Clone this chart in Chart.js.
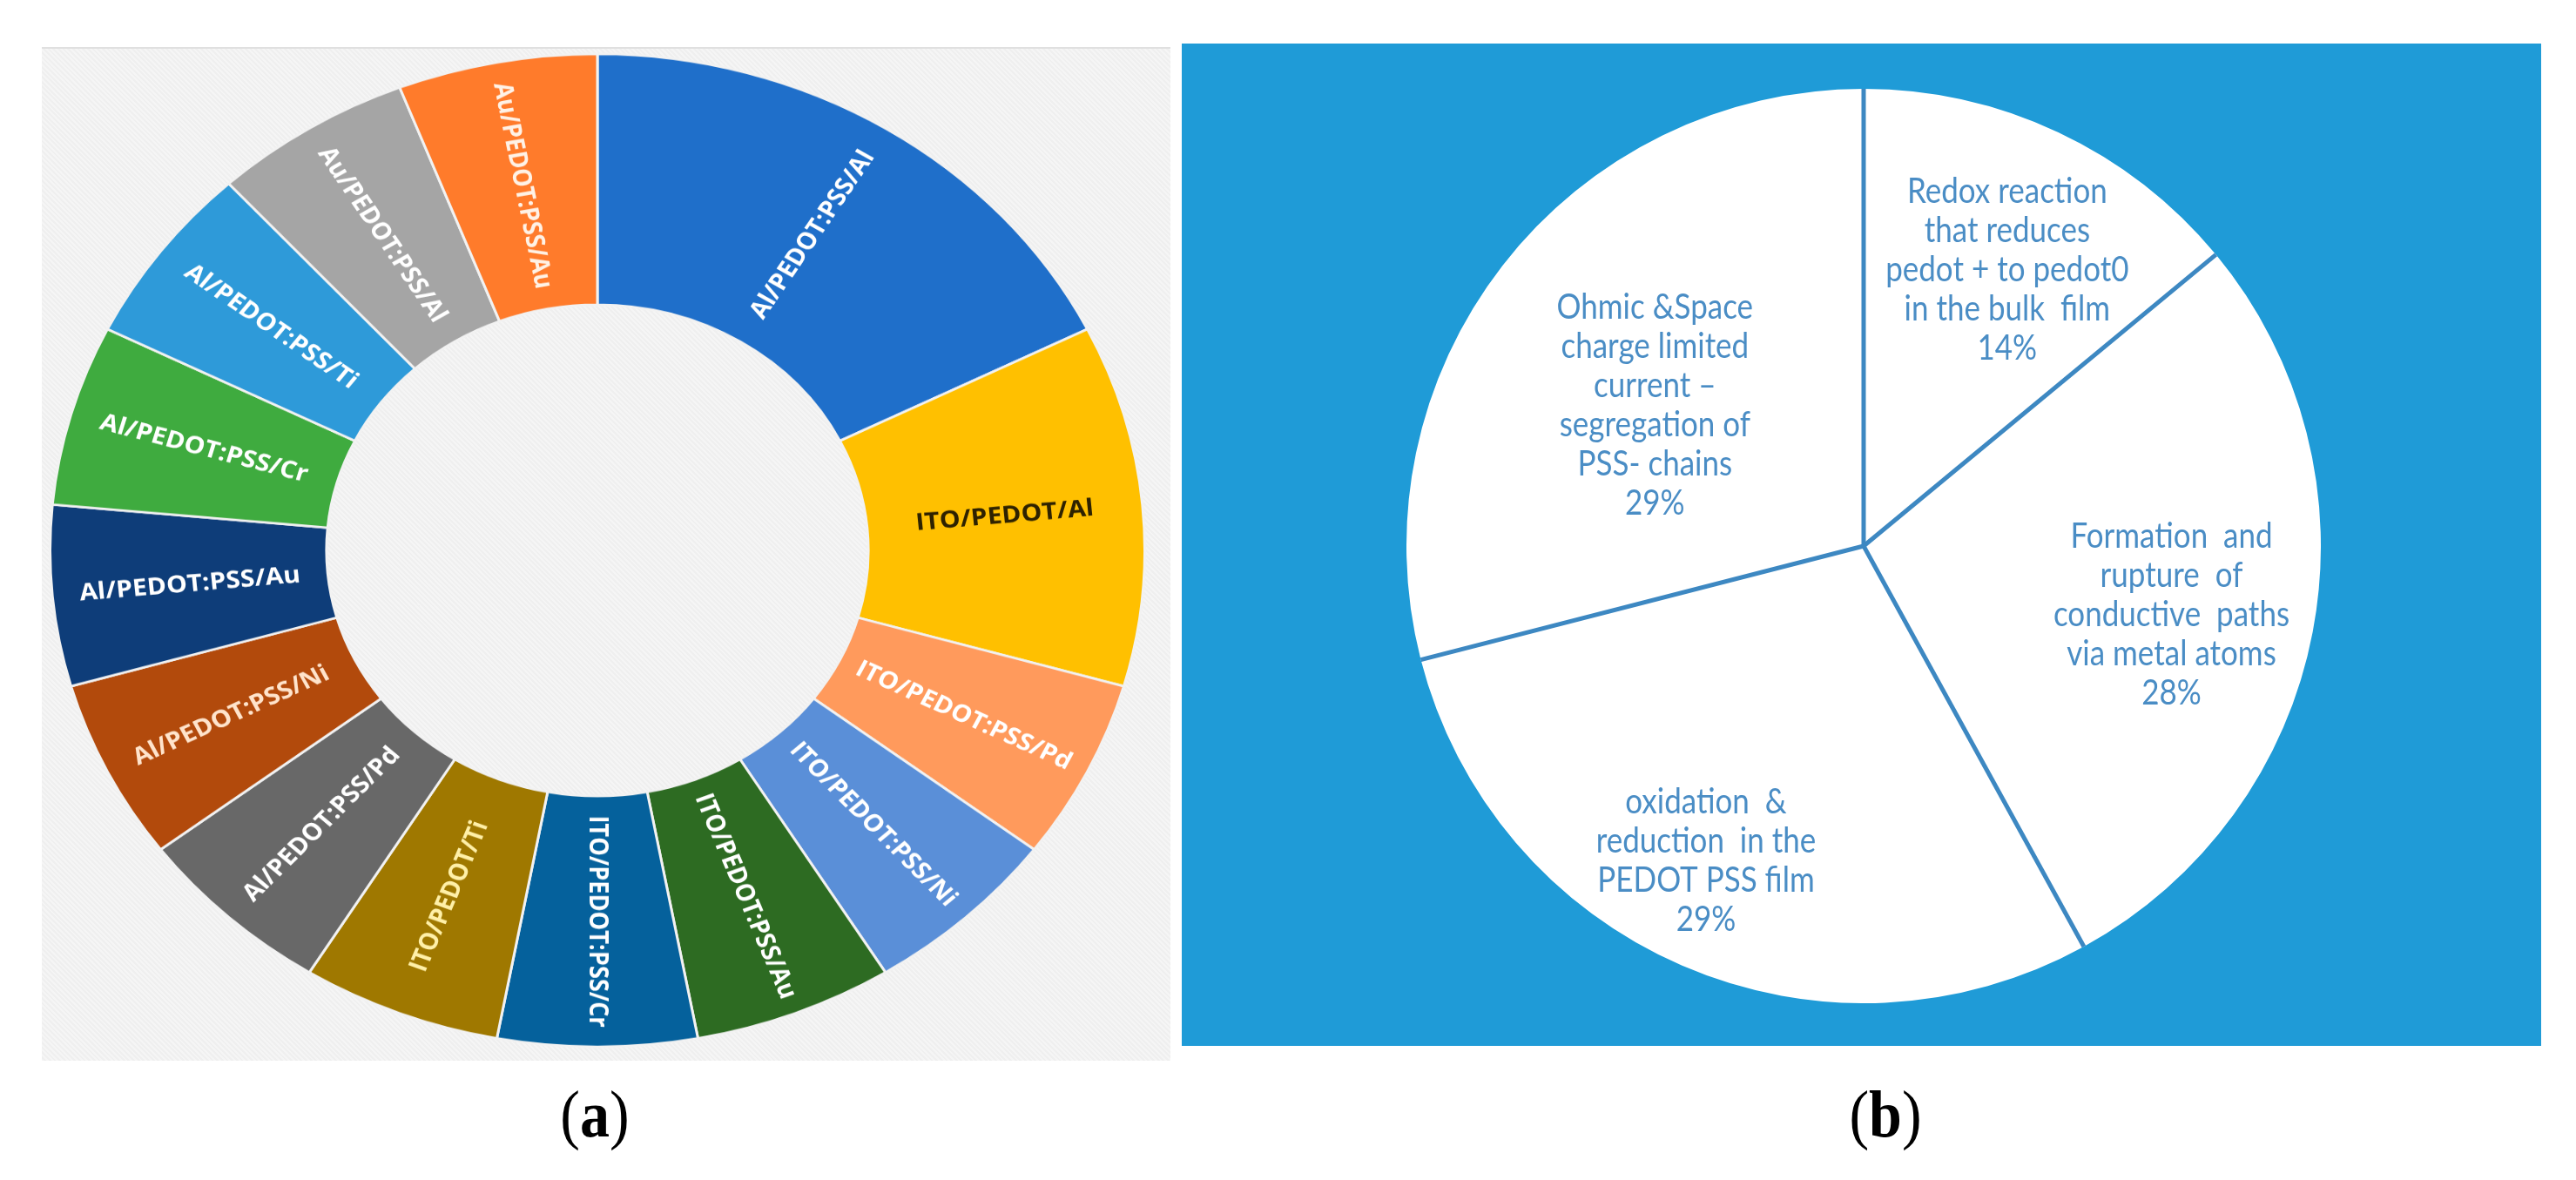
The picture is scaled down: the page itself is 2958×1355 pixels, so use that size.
<!DOCTYPE html>
<html>
<head>
<meta charset="utf-8">
<script src="https://cdn.jsdelivr.net/npm/chart.js@4.4.1/dist/chart.umd.min.js"></script>
<style>
  html, body { margin: 0; padding: 0; background: #ffffff; }
  body { width: 2958px; height: 1355px; position: relative; overflow: hidden; }
  #panelA { position: absolute; left: 48px; top: 54px; width: 1296px; height: 1162px;
            background: repeating-linear-gradient(45deg, #f5f5f5 0px, #f5f5f5 2px, #efefef 2px, #efefef 4px);
            border-top: 2px solid #e0e0e0; }
  #wrapA { position: absolute; left: 56px; top: 2px; width: 1260px; height: 1260px;
           transform: scaleY(0.907); transform-origin: 50% 50%; }
  #panelB { position: absolute; left: 1357px; top: 50px; width: 1561px; height: 1151px; background: #1f9bd7; }
  #wrapB { position: absolute; left: 1615px; top: 102px; width: 1050px; height: 1050px; }
  .caption { position: absolute; top: 1240px; width: 200px; text-align: center;
             font-family: "Liberation Serif", "DejaVu Serif", serif; font-size: 68px; color: #000;
             transform: scaleY(1.12); transform-origin: 50% 50%; }
  .caption b { font-weight: bold; }
</style>
</head>
<body>
<div id="panelA"></div>
<div id="wrapA"><canvas id="donaChart"></canvas></div>
<div id="panelB"></div>
<div id="wrapB"><canvas id="tortaChart"></canvas></div>
<div class="caption" style="left:583px;">(<b>a</b>)</div>
<div class="caption" style="left:2065px;">(<b>b</b>)</div>

<script>
// Datos del grafico (a): estructuras de dispositivos
const etiquetasA = [
  'Al/PEDOT:PSS/Al', 'ITO/PEDOT/Al', 'ITO/PEDOT:PSS/Pd', 'ITO/PEDOT:PSS/Ni',
  'ITO/PEDOT:PSS/Au', 'ITO/PEDOT:PSS/Cr', 'ITO/PEDOT/Ti', 'Al/PEDOT:PSS/Pd',
  'Al/PEDOT:PSS/Ni', 'Al/PEDOT:PSS/Au', 'Al/PEDOT:PSS/Cr', 'Al/PEDOT:PSS/Ti',
  'Au/PEDOT:PSS/Al', 'Au/PEDOT:PSS/Au'
];
const valoresA = [3, 2, 1, 1, 1, 1, 1, 1, 1, 1, 1, 1, 1, 1];

// Datos del grafico (b): mecanismos
const etiquetasB = [
  ['Redox reaction', 'that reduces', 'pedot + to pedot0', 'in the bulk  film'],
  ['Formation  and', 'rupture  of', 'conductive  paths', 'via metal atoms'],
  ['oxidation  &', 'reduction  in the', 'PEDOT PSS film'],
  ['Ohmic &Space', 'charge limited', 'current \u2013', 'segregation of', 'PSS- chains']
];
const valoresB = [14, 28, 29, 29];

// Estilos
const coloresA = [
  '#1f6fca', '#ffc000', '#ff9a5c', '#5a8fd8', '#2d6b22', '#05619c', '#9f7800',
  '#686868', '#b24a0c', '#0e3d79', '#3fab3f', '#2e9ad9', '#a5a5a5', '#ff7b2b'
];
const coloresTextoA = [
  '#ffffff', '#2e2200', '#ffffff', '#ffffff', '#ffffff', '#ffffff', '#fff0a8',
  '#ffffff', '#ffe4cc', '#ffffff', '#ffffff', '#ffffff', '#ffffff', '#fff2e6'
];
// posicion de las etiquetas de (b): fraccion del radio y desvio angular (grados)
const radioEtiquetaB = [0.68, 0.69, 0.77, 0.55];
const desvioEtiquetaB = [2.3, 1.8, 3.2, -3.9];

// Etiquetas radiales dentro del anillo
const etiquetasDona = {
  id: 'etiquetasDona',
  afterDatasetsDraw(chart) {
    const ctx = chart.ctx;
    const meta = chart.getDatasetMeta(0);
    meta.data.forEach((arc, i) => {
      const p = arc.getProps(['x', 'y', 'startAngle', 'endAngle', 'innerRadius', 'outerRadius'], true);
      const medio = (p.startAngle + p.endAngle) / 2;
      const r = (p.innerRadius + p.outerRadius) / 2;
      const grados = ((medio + Math.PI / 2) * 180 / Math.PI + 360) % 360;
      const giro = grados > 180.5 ? medio + Math.PI : medio;
      ctx.save();
      ctx.translate(p.x + Math.cos(medio) * r, p.y + Math.sin(medio) * r);
      ctx.rotate(giro);
      ctx.font = 'bold 30px "Open Sans", "Noto Sans", sans-serif';
      ctx.fillStyle = coloresTextoA[i];
      ctx.textAlign = 'center';
      ctx.textBaseline = 'middle';
      ctx.fillText(chart.data.labels[i], 0, 0);
      ctx.restore();
    });
  }
};

// Lineas divisorias y textos de la torta
const textosTorta = {
  id: 'textosTorta',
  afterDatasetsDraw(chart) {
    const ctx = chart.ctx;
    const meta = chart.getDatasetMeta(0);
    const total = valoresB.reduce((a, b) => a + b, 0);
    ctx.save();
    ctx.strokeStyle = '#3d88c2';
    ctx.lineWidth = 5;
    meta.data.forEach(arc => {
      const p = arc.getProps(['x', 'y', 'startAngle', 'outerRadius'], true);
      ctx.beginPath();
      ctx.moveTo(p.x, p.y);
      ctx.lineTo(p.x + Math.cos(p.startAngle) * p.outerRadius, p.y + Math.sin(p.startAngle) * p.outerRadius);
      ctx.stroke();
    });
    ctx.restore();

    meta.data.forEach((arc, i) => {
      const p = arc.getProps(['x', 'y', 'startAngle', 'endAngle', 'outerRadius'], true);
      const ang = (p.startAngle + p.endAngle) / 2 + desvioEtiquetaB[i] * Math.PI / 180;
      const r = p.outerRadius * radioEtiquetaB[i];
      const cx = p.x + Math.cos(ang) * r;
      const cy = p.y + Math.sin(ang) * r;
      const lineas = etiquetasB[i].concat([Math.round(valoresB[i] / total * 100) + '%']);
      const alto = 45;
      ctx.save();
      ctx.translate(cx, cy);
      ctx.scale(1, 1.15);
      ctx.font = '35px Lato, "Liberation Sans Narrow", sans-serif';
      ctx.fillStyle = '#4a8dc5';
      ctx.textAlign = 'center';
      ctx.textBaseline = 'middle';
      lineas.forEach((linea, j) => {
        ctx.fillText(linea, 0, (j - (lineas.length - 1) / 2) * alto / 1.15);
      });
      ctx.restore();
    });
  }
};

new Chart(document.getElementById('donaChart'), {
  type: 'doughnut',
  data: {
    labels: etiquetasA,
    datasets: [{
      data: valoresA,
      backgroundColor: coloresA,
      borderColor: '#f2f2f2',
      borderWidth: 3
    }]
  },
  options: {
    responsive: true,
    maintainAspectRatio: false,
    animation: false,
    cutout: '49.5%',
    plugins: { legend: { display: false }, tooltip: { enabled: false } }
  },
  plugins: [etiquetasDona]
});

new Chart(document.getElementById('tortaChart'), {
  type: 'pie',
  data: {
    labels: etiquetasB.map(l => l.join(' ')),
    datasets: [{
      data: valoresB,
      backgroundColor: '#ffffff',
      borderWidth: 0
    }]
  },
  options: {
    responsive: true,
    maintainAspectRatio: false,
    animation: false,
    plugins: { legend: { display: false }, tooltip: { enabled: false } }
  },
  plugins: [textosTorta]
});
</script>
</body>
</html>
